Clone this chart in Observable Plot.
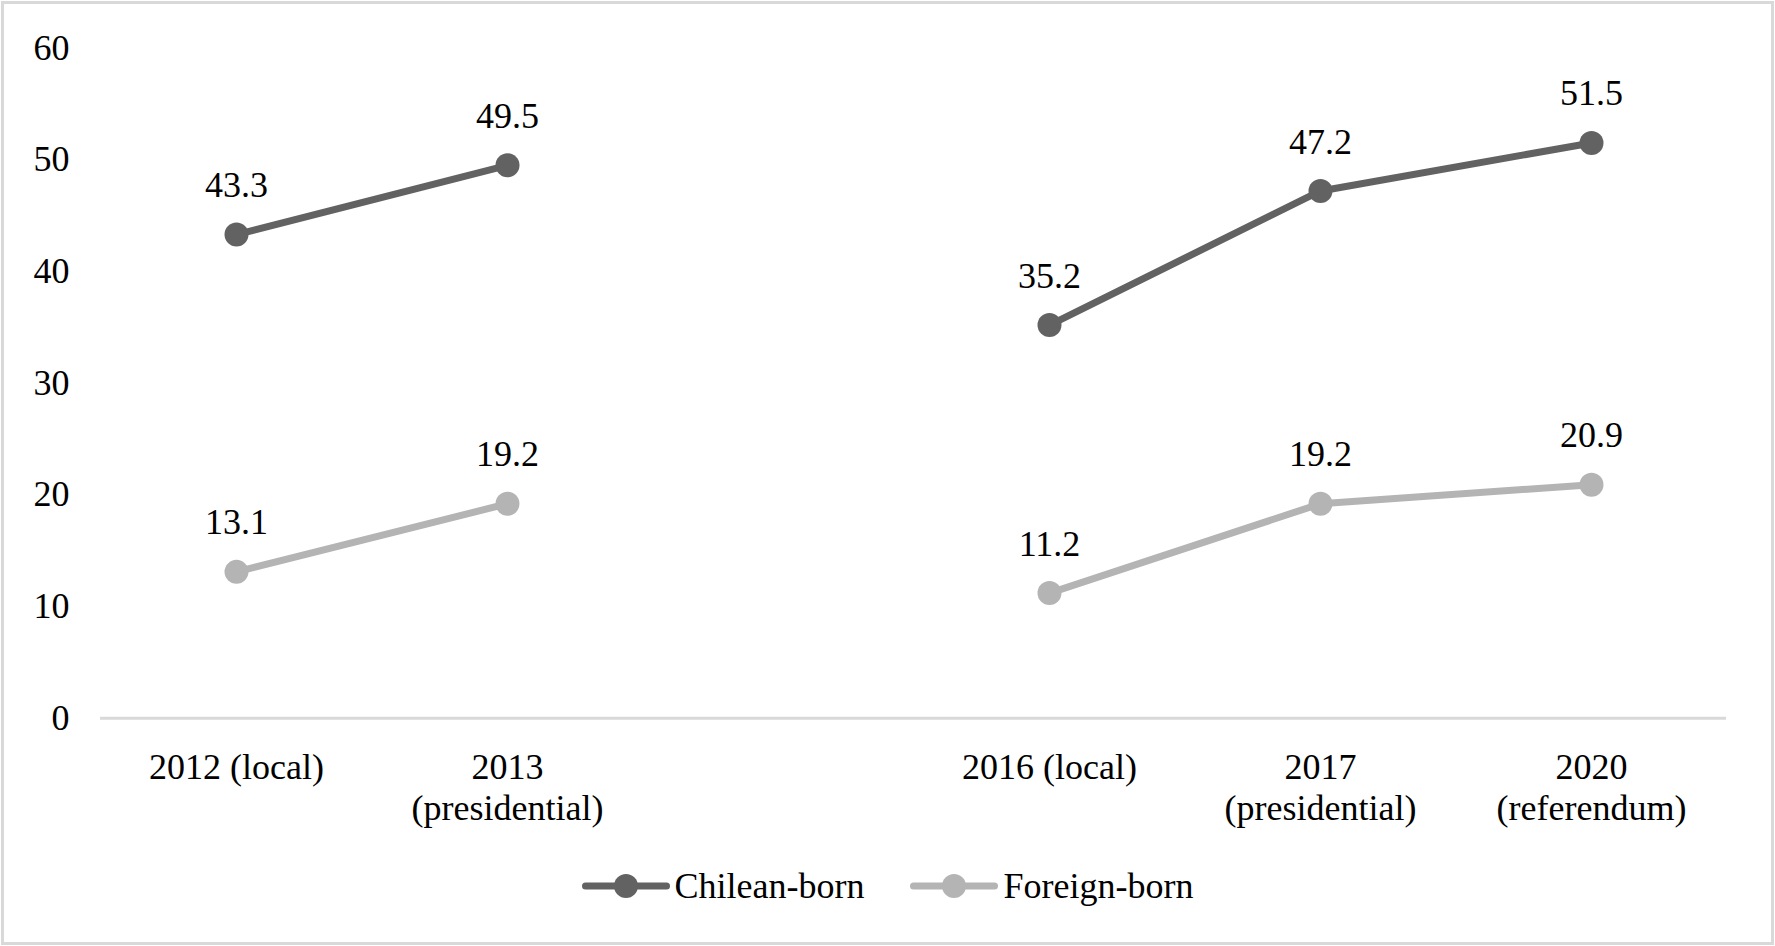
<!DOCTYPE html>
<html>
<head>
<meta charset="utf-8">
<script src="https://cdn.jsdelivr.net/npm/d3@7"></script>
<script src="https://cdn.jsdelivr.net/npm/@observablehq/plot@0.6"></script>
<style>
  html, body { margin: 0; padding: 0; background: #fff; }
  #frame {
    position: absolute; left: 1px; top: 1px;
    width: 1773px; height: 944px; box-sizing: border-box;
    border: 3px solid #d9d9d9; background: #fff;
    font-family: "Liberation Serif", Tinos, "Times New Roman", Times, "DejaVu Serif", serif;
  }
  #chart svg { display: block; }
  #legend {
    display: flex; justify-content: center; align-items: center;
    margin-top: 22px; height: 40px; font-size: 36px; color: #000;
  }
  .item { display: flex; align-items: center; margin: 0 23px; }
  .item svg { margin-right: 5px; }
</style>
</head>
<body>
<div id="frame"><div id="chart"></div><div id="legend"></div></div>
<script>
// Categories (empty slot marks the gap between 2013 and 2016)
const categories = ["2012", "2013", "gap", "2016", "2017", "2020"];
const tickLabels = ["2012 (local)", "2013\n(presidential)", "", "2016 (local)", "2017\n(presidential)", "2020\n(referendum)"];
const seriesNames = ["Chilean-born", "Foreign-born"];
const seriesColors = ["#626262", "#b4b4b4"];
const chileanBorn = [43.3, 49.5, null, 35.2, 47.2, 51.5];
const foreignBorn = [13.1, 19.2, null, 11.2, 19.2, 20.9];
const yTicks = [0, 10, 20, 30, 40, 50, 60];

const serifFont = '"Liberation Serif", Tinos, "Times New Roman", Times, "DejaVu Serif", serif';

const seriesValues = [chileanBorn, foreignBorn];
const rows = [];
seriesNames.forEach((s, i) => {
  categories.forEach((c, j) => rows.push({series: s, cat: c, value: seriesValues[i][j]}));
});
const labelOf = new Map(categories.map((c, i) => [c, tickLabels[i]]));

const chart = Plot.plot({
  width: 1767,
  height: 840,
  marginLeft: 96,
  marginRight: 45,
  marginTop: 43.5,
  marginBottom: 126.3,
  style: {fontFamily: serifFont, fontSize: "36px", color: "#000", background: "#fff"},
  x: {type: "point", domain: categories, padding: 0.5, align: 0.5, label: null},
  y: {domain: [0, 60], label: null},
  color: {domain: seriesNames, range: seriesColors},
  marks: [
    Plot.ruleY([0], {stroke: "#d9d9d9", strokeWidth: 3}),
    Plot.axisY({ticks: yTicks, tickSize: 0, tickPadding: 31, label: null, fill: "#000", fontFamily: serifFont}),
    Plot.axisX({tickSize: 0, tickPadding: 32, label: null, lineHeight: 1.14, fill: "#000", fontFamily: serifFont,
      tickFormat: d => labelOf.get(d)}),
    Plot.line(rows, {x: "cat", y: "value", z: "series", stroke: "series", strokeWidth: 7, strokeLinecap: "butt"}),
    Plot.dot(rows, {x: "cat", y: "value", fill: "series", r: 12}),
    Plot.text(rows, {x: "cat", y: "value", text: d => d.value == null ? null : d.value.toFixed(1), dy: -49, fill: "#000", fontSize: 36, fontFamily: serifFont})
  ]
});
document.getElementById("chart").appendChild(chart);

// Legend
const legend = document.getElementById("legend");
seriesNames.forEach((s, i) => {
  const item = document.createElement("div");
  item.className = "item";
  const ns = "http://www.w3.org/2000/svg";
  const sw = document.createElementNS(ns, "svg");
  sw.setAttribute("width", 88); sw.setAttribute("height", 26);
  const ln = document.createElementNS(ns, "line");
  ln.setAttribute("x1", 3.5); ln.setAttribute("x2", 84.5); ln.setAttribute("y1", 13); ln.setAttribute("y2", 13);
  ln.setAttribute("stroke", seriesColors[i]); ln.setAttribute("stroke-width", 7); ln.setAttribute("stroke-linecap", "round");
  const ci = document.createElementNS(ns, "circle");
  ci.setAttribute("cx", 44); ci.setAttribute("cy", 13); ci.setAttribute("r", 12); ci.setAttribute("fill", seriesColors[i]);
  sw.appendChild(ln); sw.appendChild(ci);
  const tx = document.createElement("span");
  tx.textContent = s;
  item.appendChild(sw); item.appendChild(tx);
  legend.appendChild(item);
});
</script>
</body>
</html>
